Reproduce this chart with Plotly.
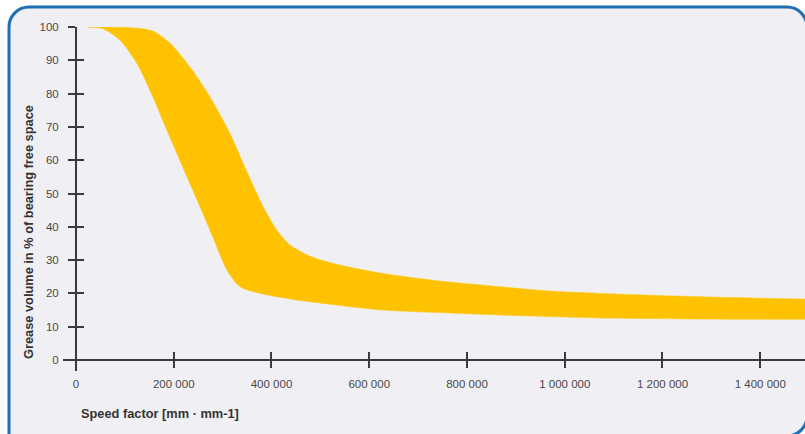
import plotly.graph_objects as go

# ---- data ----
upper_x = [24500, 60000, 110000, 140000, 160000, 192000, 233000, 274000, 315000, 345000,
           383000, 411000, 438000, 478000, 526000, 628000, 765000, 868000, 970000,
           1072000, 1277000, 1520000]
upper_y = [100, 100, 99.8, 99.4, 98.6, 95.2, 88, 79, 68, 58,
           46, 39, 34.5, 31.2, 29, 26, 23.4, 22, 20.7,
           20, 19, 18.2]

lower_x = [24500, 55000, 90000, 125000, 157500, 186000, 206500, 248000, 280000, 309000,
           336000, 383000, 452000, 493000, 628000, 765000, 868000, 1072000, 1277000, 1520000]
lower_y = [100, 99.5, 96, 89, 79, 69, 62, 48, 37, 27,
           22, 19.8, 18, 17.2, 15, 14.1, 13.5, 12.6, 12.3, 12.2]

x_tick_vals = [0, 200000, 400000, 600000, 800000, 1000000, 1200000, 1400000]
x_tick_text = ["0", "200 000", "400 000", "600 000", "800 000", "1 000 000", "1 200 000", "1 400 000"]
y_tick_vals = [0, 10, 20, 30, 40, 50, 60, 70, 80, 90, 100]
y_tick_text = ["0", "10", "20", "30", "40", "50", "60", "70", "80", "90", "100"]

x_title = "Speed factor [mm · mm-1]"
y_title = "Grease volume in % of bearing free space"

# ---- layout geometry ----
W, H = 805, 434
L, R, T, B = 76, 0, 27, 74
PW = W - L - R
PH = H - T - B
X_MAX = 1491600


def px(x):
    return (x - L) / PW


def py(y):
    return (H - B - y) / PH


band_color = "#FFC200"
axis_color = "#3a3a3a"
label_color = "#484848"
title_color = "#333333"
font_family = "Liberation Sans, Arial, sans-serif"

fig = go.Figure()

fig.add_trace(go.Scatter(
    x=lower_x, y=lower_y, mode="lines",
    line=dict(color=band_color, width=0.5, shape="spline", smoothing=0.8),
    hoverinfo="skip", showlegend=False,
))
fig.add_trace(go.Scatter(
    x=upper_x, y=upper_y, mode="lines", fill="tonexty", fillcolor=band_color,
    line=dict(color=band_color, width=0.5, shape="spline", smoothing=0.8),
    hoverinfo="skip", showlegend=False,
))
# invisible trace for overlay axes (inside ticks)
fig.add_trace(go.Scatter(x=[None], y=[None], xaxis="x2", yaxis="y2",
                         mode="markers", showlegend=False, hoverinfo="skip"))

# rounded blue frame
r = 20
k = 0.5523 * r
left, top, right, bottom = 9, 7, 807, 436
path = (
    f"M {px(left)},{py(bottom)} "
    f"L {px(left)},{py(top + r)} "
    f"C {px(left)},{py(top + r - k)} {px(left + r - k)},{py(top)} {px(left + r)},{py(top)} "
    f"L {px(right - r)},{py(top)} "
    f"C {px(right - r + k)},{py(top)} {px(right)},{py(top + r - k)} {px(right)},{py(top + r)} "
    f"L {px(right)},{py(bottom - r)} "
    f"C {px(right)},{py(bottom - r + k)} {px(right - r + k)},{py(bottom)} {px(right - r)},{py(bottom)} "
    "Z"
)
shapes = [
    dict(type="path", xref="paper", yref="paper", path=path,
         fillcolor="#f0f0f4", line=dict(color="#1e6eb4", width=3), layer="below"),
    dict(type="line", xref="paper", yref="paper", x0=px(63), x1=1.0, y0=0, y1=0,
         line=dict(color=axis_color, width=2), layer="above"),
    dict(type="line", xref="paper", yref="paper", x0=0, x1=0, y0=py(371), y1=1,
         line=dict(color=axis_color, width=2), layer="above"),
]

tickfont = dict(family=font_family, size=11.5, color=label_color)

fig.update_layout(
    width=W, height=H,
    margin=dict(l=L, r=R, t=T, b=B, pad=0),
    paper_bgcolor="white",
    plot_bgcolor="rgba(0,0,0,0)",
    showlegend=False,
    shapes=shapes,
    xaxis=dict(range=[0, X_MAX], tickvals=x_tick_vals, ticktext=x_tick_text,
               ticks="outside", ticklen=7, tickwidth=2, tickcolor=axis_color,
               showline=False, showgrid=False, zeroline=False, tickfont=tickfont,
               ticklabelstandoff=6, fixedrange=True),
    yaxis=dict(range=[0, 100], tickvals=y_tick_vals, ticktext=y_tick_text,
               ticks="outside", ticklen=7, tickwidth=2, tickcolor=axis_color,
               showline=False, showgrid=False, zeroline=False, tickfont=tickfont,
               ticklabelstandoff=7, fixedrange=True),
    xaxis2=dict(overlaying="x", anchor="y2", side="bottom", range=[0, X_MAX],
                tickvals=x_tick_vals, ticks="inside", ticklen=8, tickwidth=2,
                tickcolor=axis_color, showticklabels=False, showline=False,
                showgrid=False, zeroline=False, fixedrange=True),
    yaxis2=dict(overlaying="y", anchor="x2", side="left", range=[0, 100],
                tickvals=y_tick_vals, ticks="inside", ticklen=8, tickwidth=2,
                tickcolor=axis_color, showticklabels=False, showline=False,
                showgrid=False, zeroline=False, fixedrange=True),
    annotations=[
        dict(text=y_title, xref="paper", yref="paper", x=px(28), y=py(232),
             xanchor="center", yanchor="middle", textangle=-90, showarrow=False,
             font=dict(family=font_family, size=12.8, color=title_color, weight="bold")),
        dict(text=x_title, xref="paper", yref="paper", x=px(79), y=py(413),
             xanchor="left", yanchor="middle", showarrow=False,
             font=dict(family=font_family, size=12.8, color=title_color, weight="bold")),
    ],
)

fig.write_html(
    "out.html",
    config={"displayModeBar": False},
    post_script="document.body.style.margin='0';document.body.style.overflow='hidden';",
)
